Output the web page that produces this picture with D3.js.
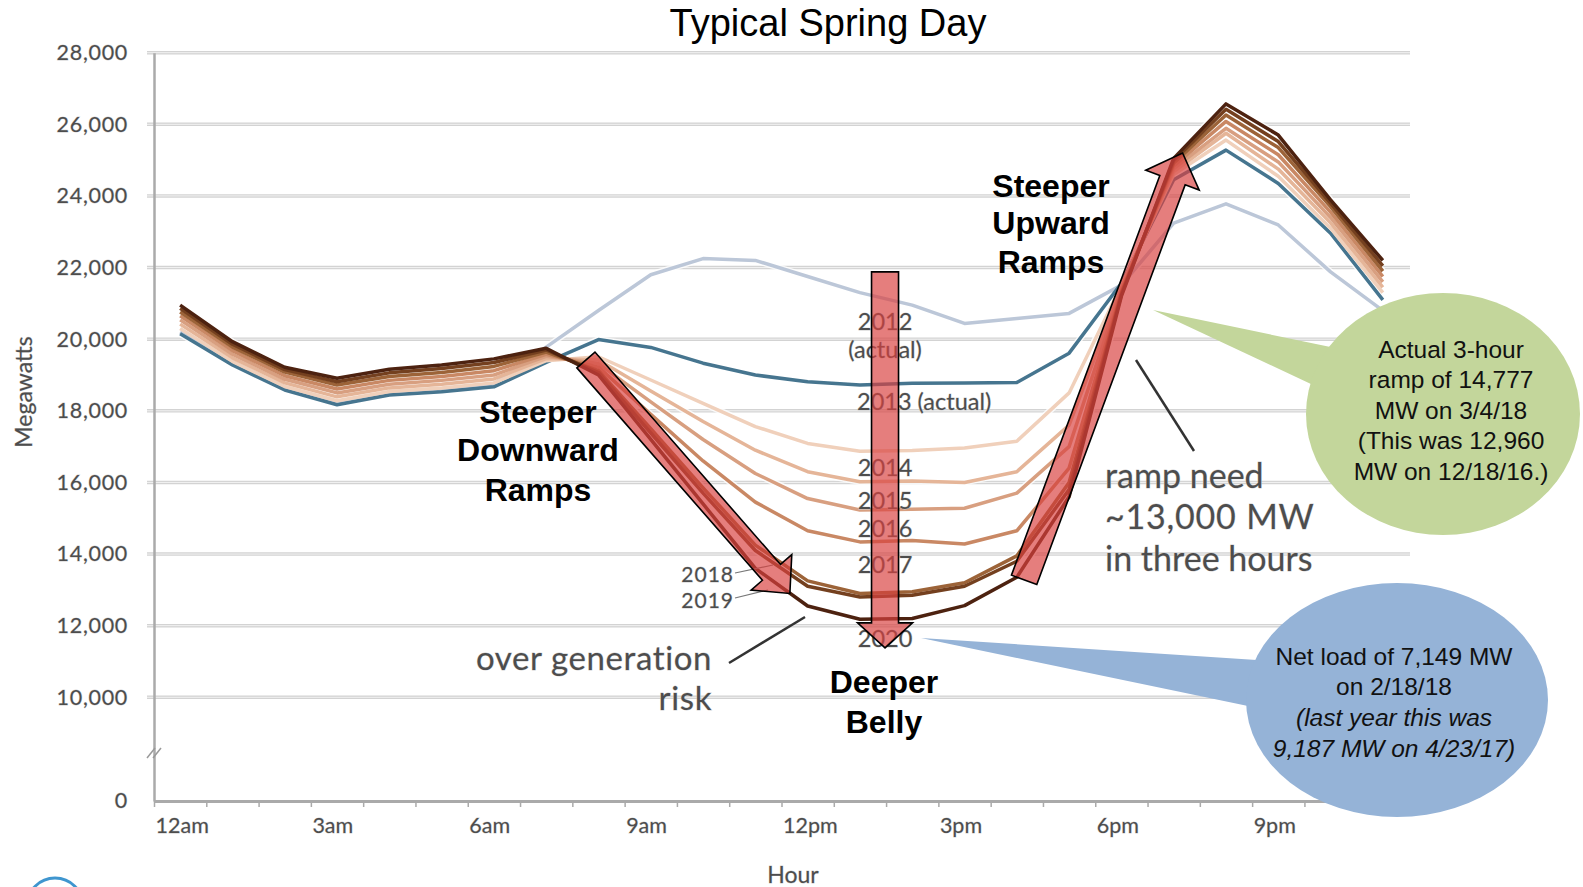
<!DOCTYPE html>
<html>
<head>
<meta charset="utf-8">
<script src="https://cdn.jsdelivr.net/npm/d3@7"></script>
<style>
  body { margin: 0; background: #fff; }
  svg { display: block; }
  .gray { font-family: Lato, "Open Sans", sans-serif; fill: #4d4d4d; stroke: #d0d0d0; stroke-width: 0.8; paint-order: stroke; }
  .bold { font-family: "Liberation Sans", Arial, sans-serif; font-weight: bold; font-size: 32px; fill: #000; }
  .bubble { font-family: "Liberation Sans", Arial, sans-serif; font-size: 24.5px; fill: #111; }
</style>
</head>
<body>
<div id="chart"></div>
<script>
// hour midpoints (1..24 plotted at the centre of each hour)
const hours = [0.5, 1.5, 2.5, 3.5, 4.5, 5.5, 6.5, 7.5, 8.5, 9.5, 10.5, 11.5,
  12.5, 13.5, 14.5, 15.5, 16.5, 17.5, 18.5, 19.5, 20.5, 21.5, 22.5, 23.5]

// net load, MW
const load2012 = [20200, 19300, 18650, 18250, 18500, 18600, 18750, 19780, 20800, 21800, 22250, 22200,
  21750, 21300, 20950, 20440, 20580, 20720, 21510, 23240, 23780, 23190, 21880, 20800]
const load2013 = [20150, 19280, 18580, 18170, 18440, 18530, 18670, 19350, 19990, 19770, 19330, 19000,
  18810, 18720, 18770, 18780, 18790, 19610, 21560, 24450, 25280, 24350, 22960, 21100]
const load2014 = [20300, 19380, 18680, 18280, 18540, 18640, 18780, 19400, 19510, 18860, 18210, 17560,
  17090, 16870, 16890, 16960, 17150, 18500, 21500, 24600, 25560, 24550, 23100, 21300]
const load2015 = [20420, 19480, 18780, 18390, 18640, 18740, 18890, 19460, 19420, 18550, 17700, 16900,
  16300, 16020, 16040, 16000, 16300, 17600, 21450, 24680, 25750, 24750, 23250, 21450]
const load2016 = [20540, 19580, 18880, 18500, 18740, 18850, 19000, 19520, 19320, 18250, 17200, 16250,
  15550, 15230, 15250, 15280, 15700, 17000, 21400, 24760, 25890, 24950, 23400, 21600]
const load2017 = [20650, 19680, 18980, 18610, 18850, 18960, 19120, 19580, 19220, 17900, 16600, 15450,
  14650, 14340, 14380, 14280, 14650, 16400, 21350, 24840, 26080, 25150, 23550, 21750]
const load2018 = [20760, 19780, 19080, 18720, 18960, 19070, 19240, 19640, 19120, 17500, 15850, 14250,
  13250, 12900, 12950, 13200, 13950, 16000, 21300, 24920, 26260, 25350, 23700, 21900]
const load2019 = [20860, 19860, 19150, 18810, 19060, 19180, 19350, 19700, 19070, 17380, 15700, 14100,
  13100, 12800, 12850, 13100, 13800, 15800, 21250, 24990, 26420, 25520, 23800, 22050]
const load2020 = [20950, 19930, 19215, 18910, 19160, 19280, 19450, 19745, 19000, 17200, 15400, 13600,
  12550, 12180, 12200, 12560, 13350, 15600, 21200, 25050, 26570, 25700, 23890, 22200]

const years = ["2012", "2013", "2014", "2015", "2016", "2017", "2018", "2019", "2020"]
const loads = [load2012, load2013, load2014, load2015, load2016, load2017, load2018, load2019, load2020]
const yearColors = ["#bcc7d8", "#46758f", "#f0d0bb", "#e5b598", "#d89f80", "#c98864", "#9c6338", "#74401f", "#4d2210"]

const yTicks = [0, 10000, 12000, 14000, 16000, 18000, 20000, 22000, 24000, 26000, 28000]
const xTicks = [0, 1, 2, 3, 4, 5, 6, 7, 8, 9, 10, 11, 12, 13, 14, 15, 16, 17, 18, 19, 20, 21, 22, 23, 24]
const hourLabels = {0: "12am", 3: "3am", 6: "6am", 9: "9am", 12: "12pm", 15: "3pm", 18: "6pm", 21: "9pm"}

const width = 1583
const height = 887

const x = d3.scaleLinear().domain([0, 24]).range([154, 1409])
// broken axis: 0 sits below a gap, 10,000-28,000 is linear
const y = d3.scaleLinear().domain([0, 10000, 28000]).range([801, 697.3, 52.7])

const svg = d3.select('#chart')
  .append('svg')
  .attr('width', width)
  .attr('height', height)

// gridlines
const grid = svg.append('g')
grid.selectAll('line.g1')
  .data(yTicks.filter(d => d > 0))
  .join('line')
  .attr('class', 'g1')
  .attr('x1', 147).attr('x2', 1410)
  .attr('y1', d => y(d)).attr('y2', d => y(d))
  .attr('stroke', '#d3d3d3')
  .attr('stroke-width', 3.5)
grid.selectAll('line.g2')
  .data(yTicks.filter(d => d > 0))
  .join('line')
  .attr('class', 'g2')
  .attr('x1', 147).attr('x2', 1410)
  .attr('y1', d => y(d)).attr('y2', d => y(d))
  .attr('stroke', '#f2f2f2')
  .attr('stroke-width', 1)

// y axis
const yAxis = d3.axisLeft(y).tickValues(yTicks).tickFormat(d3.format(',')).tickSize(0).tickPadding(26)
const gy = svg.append('g')
  .attr('transform', `translate(${x(0)} 0)`)
  .call(yAxis)
gy.select('.domain').attr('stroke', '#aaa').attr('stroke-width', 2.5)
gy.selectAll('text')
  .attr('class', 'gray')
  .attr('font-size', 21.5)
  .attr('letter-spacing', 0.7)

// axis break marks
svg.append('g').selectAll('line')
  .data([-3, 3])
  .join('line')
  .attr('x1', d => x(0) - 4 + d).attr('y1', y(0) - 43)
  .attr('x2', d => x(0) + 4 + d).attr('y2', y(0) - 53)
  .attr('stroke', '#999')
  .attr('stroke-width', 1.5)

// x axis
const xAxis = d3.axisBottom(x).tickValues(xTicks).tickSize(6).tickSizeOuter(0)
  .tickFormat(d => hourLabels[d] || '')
const gx = svg.append('g')
  .attr('transform', `translate(0 ${y(0)})`)
  .call(xAxis)
gx.select('.domain').attr('stroke', '#aaa').attr('stroke-width', 3)
gx.selectAll('.tick line').attr('stroke', '#aaa').attr('stroke-width', 1.5)
gx.selectAll('text')
  .attr('class', 'gray')
  .attr('font-size', 21.5)
  .attr('text-anchor', 'start')
  .attr('x', 1)
  .attr('y', 24)
  .attr('dy', 0)
  .attr('dominant-baseline', 'central')

svg.append('text')
  .attr('class', 'gray')
  .attr('font-size', 23)
  .attr('x', 793).attr('y', 874)
  .attr('text-anchor', 'middle')
  .attr('dominant-baseline', 'central')
  .text('Hour')

svg.append('text')
  .attr('class', 'gray')
  .attr('font-size', 23)
  .attr('transform', 'translate(23 392) rotate(-90)')
  .attr('text-anchor', 'middle')
  .attr('dominant-baseline', 'central')
  .text('Megawatts')

// title
svg.append('text')
  .attr('x', 828).attr('y', 36)
  .attr('text-anchor', 'middle')
  .attr('font-family', '"Liberation Sans", Arial, sans-serif')
  .attr('font-size', 38)
  .text('Typical Spring Day')

// net load lines
const line = d3.line()
  .x((d, i) => x(hours[i]))
  .y(d => y(d))

const series = years.map((yr, i) => ({year: yr, values: loads[i], color: yearColors[i]}))

const lines = svg.append('g').attr('class', 'lines')
lines.selectAll('path.halo')
  .data(series)
  .join('path')
  .attr('class', 'halo')
  .attr('d', d => line(d.values))
  .attr('fill', 'none')
  .attr('stroke', '#fff')
  .attr('stroke-opacity', 0.8)
  .attr('stroke-width', 6.5)
  .attr('stroke-linejoin', 'round')
lines.selectAll('path.load')
  .data(series)
  .join('path')
  .attr('class', 'load')
  .attr('d', d => line(d.values))
  .attr('fill', 'none')
  .attr('stroke', d => d.color)
  .attr('stroke-width', 3.5)
  .attr('stroke-linejoin', 'round')

// year labels
const labelHour = 13.98
const yearLabels = svg.append('g').attr('class', 'gray').attr('font-size', 23.5)
  .attr('dominant-baseline', 'central')
yearLabels.append('text').attr('x', x(labelHour)).attr('y', 321).attr('text-anchor', 'middle').text('2012')
yearLabels.append('text').attr('x', x(labelHour)).attr('y', 349).attr('text-anchor', 'middle').text('(actual)')
yearLabels.append('text').attr('x', 857).attr('y', 401).text('2013 (actual)')
yearLabels.append('text').attr('x', x(labelHour)).attr('y', 467).attr('text-anchor', 'middle').text('2014')
yearLabels.append('text').attr('x', x(labelHour)).attr('y', 500).attr('text-anchor', 'middle').text('2015')
yearLabels.append('text').attr('x', x(labelHour)).attr('y', 528).attr('text-anchor', 'middle').text('2016')
yearLabels.append('text').attr('x', x(labelHour)).attr('y', 564).attr('text-anchor', 'middle').text('2017')
yearLabels.append('text').attr('x', x(labelHour)).attr('y', 638).attr('text-anchor', 'middle').text('2020')
yearLabels.append('text').attr('x', 734).attr('y', 573).attr('text-anchor', 'end')
  .attr('font-size', 21).attr('letter-spacing', 1).text('2018')
yearLabels.append('text').attr('x', 734).attr('y', 599).attr('text-anchor', 'end')
  .attr('font-size', 21).attr('letter-spacing', 1).text('2019')

const leaders = [
  [735, 573, 773, 565],
  [735, 598, 768, 590],
  [729, 663, 805, 617],
  [1194, 451, 1136, 360]
]
svg.append('g').selectAll('line')
  .data(leaders)
  .join('line')
  .attr('x1', d => d[0]).attr('y1', d => d[1])
  .attr('x2', d => d[2]).attr('y2', d => d[3])
  .attr('stroke', (d, i) => i < 2 ? '#777' : '#333')
  .attr('stroke-width', (d, i) => i < 2 ? 1.2 : 2.5)

// gray annotations
const gray = svg.append('g').attr('class', 'gray').attr('dominant-baseline', 'central')
gray.append('text').attr('x', 712).attr('y', 657).attr('text-anchor', 'end').attr('font-size', 33).attr('letter-spacing', 0.6).text('over generation')
gray.append('text').attr('x', 712).attr('y', 697).attr('text-anchor', 'end').attr('font-size', 33).attr('letter-spacing', 0.6).text('risk')
gray.append('text').attr('x', 1105).attr('y', 474).attr('font-size', 34).text('ramp need')
gray.append('text').attr('x', 1105).attr('y', 515).attr('font-size', 34).attr('letter-spacing', 0.8).text('~13,000 MW')
gray.append('text').attr('x', 1105).attr('y', 557).attr('font-size', 34).text('in three hours')

// red ramp arrows
const rampArrows = [
  {from: [8.26, 19420], to: [12.16, 12900], shaft: 24, head: 54, headLen: 28},
  {from: [16.64, 13280], to: [19.67, 25200], shaft: 27, head: 57, headLen: 29},
  {from: [13.98, 21880], to: [13.98, 11380], shaft: 27, head: 55, headLen: 25}
]

function arrowPoints(a) {
  const x1 = x(a.from[0]), y1 = y(a.from[1])
  const x2 = x(a.to[0]), y2 = y(a.to[1])
  const len = Math.hypot(x2 - x1, y2 - y1)
  const ux = (x2 - x1) / len, uy = (y2 - y1) / len
  const px = -uy, py = ux
  const bx = x2 - ux * a.headLen, by = y2 - uy * a.headLen
  const s = a.shaft / 2, h = a.head / 2
  return [
    [x1 + px * s, y1 + py * s],
    [bx + px * s, by + py * s],
    [bx + px * h, by + py * h],
    [x2, y2],
    [bx - px * h, by - py * h],
    [bx - px * s, by - py * s],
    [x1 - px * s, y1 - py * s]
  ].map(p => p.join(',')).join(' ')
}

svg.append('g').selectAll('polygon')
  .data(rampArrows)
  .join('polygon')
  .attr('points', arrowPoints)
  .attr('fill', '#d9413f')
  .attr('fill-opacity', 0.68)
  .attr('stroke', '#000')
  .attr('stroke-width', 1.6)
  .attr('stroke-linejoin', 'miter')

// bold annotations
const bold = svg.append('g').attr('class', 'bold').attr('text-anchor', 'middle').attr('dominant-baseline', 'central')
bold.append('text').attr('x', 538).attr('y', 412).text('Steeper')
bold.append('text').attr('x', 538).attr('y', 450).text('Downward')
bold.append('text').attr('x', 538).attr('y', 490).text('Ramps')
bold.append('text').attr('x', 1051).attr('y', 186).text('Steeper')
bold.append('text').attr('x', 1051).attr('y', 223).text('Upward')
bold.append('text').attr('x', 1051).attr('y', 262).text('Ramps')
bold.append('text').attr('x', 884).attr('y', 682).text('Deeper')
bold.append('text').attr('x', 884).attr('y', 722).text('Belly')

// callout bubbles
const green = svg.append('g')
green.append('polygon')
  .attr('points', '1153,310 1345,350 1345,400')
  .attr('fill', '#c3d69b')
green.append('ellipse')
  .attr('cx', 1443).attr('cy', 414).attr('rx', 137).attr('ry', 121)
  .attr('fill', '#c3d69b')
const greenLines = ['Actual 3-hour', 'ramp of 14,777', 'MW on 3/4/18', '(This was 12,960', 'MW on 12/18/16.)']
green.selectAll('text')
  .data(greenLines)
  .join('text')
  .attr('class', 'bubble')
  .attr('x', 1451)
  .attr('y', (d, i) => 349 + i * 30.5)
  .attr('text-anchor', 'middle')
  .attr('dominant-baseline', 'central')
  .text(d => d)

const blue = svg.append('g')
blue.append('polygon')
  .attr('points', '921,638 1272,661 1272,711')
  .attr('fill', '#95b3d7')
blue.append('ellipse')
  .attr('cx', 1397).attr('cy', 700).attr('rx', 151).attr('ry', 117)
  .attr('fill', '#95b3d7')
const blueLines = ['Net load of 7,149 MW', 'on 2/18/18', '(last year this was', '9,187 MW on 4/23/17)']
blue.selectAll('text')
  .data(blueLines)
  .join('text')
  .attr('class', 'bubble')
  .attr('font-size', 25)
  .attr('font-style', (d, i) => i > 1 ? 'italic' : 'normal')
  .attr('x', 1394)
  .attr('y', (d, i) => 656 + i * 30.8)
  .attr('text-anchor', 'middle')
  .attr('dominant-baseline', 'central')
  .text(d => d)

// logo edge peeking in at the bottom left
svg.append('circle')
  .attr('cx', 55).attr('cy', 906).attr('r', 28)
  .attr('fill', 'none')
  .attr('stroke', '#3f96cf')
  .attr('stroke-width', 3)
</script>
</body>
</html>
